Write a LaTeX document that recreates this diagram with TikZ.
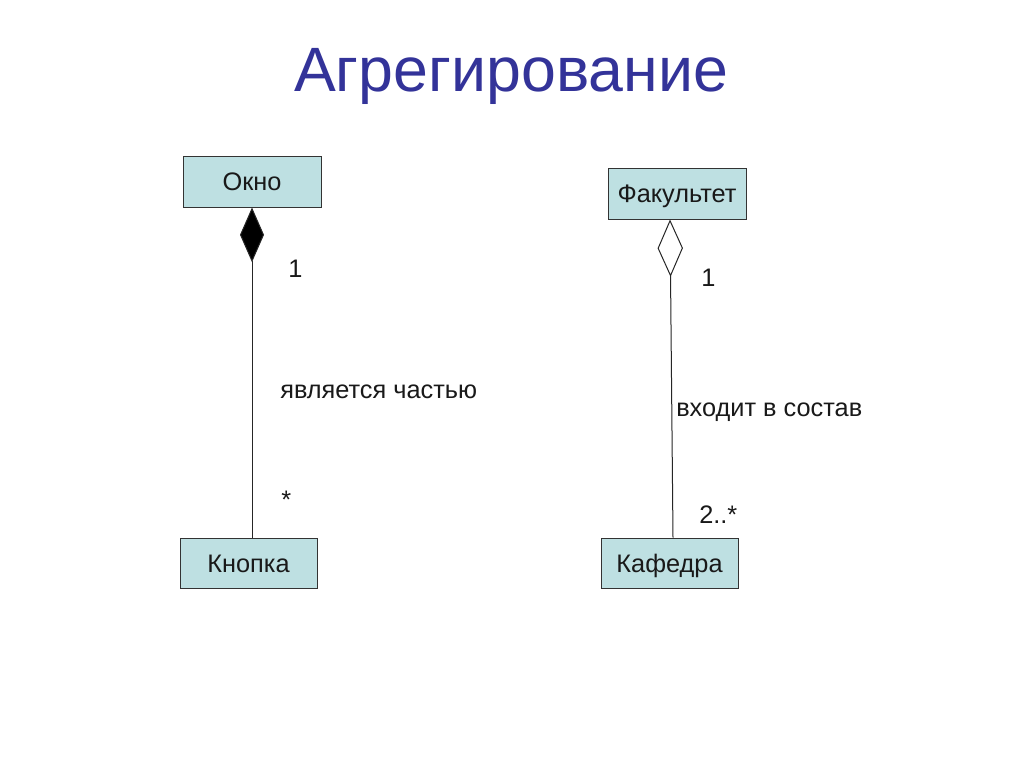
\documentclass[tikz,border=0pt]{standalone}
\usepackage{fontspec}
\setmainfont{Liberation Sans}
\usetikzlibrary{arrows.meta,calc}
\definecolor{boxfill}{RGB}{190,224,226}
\definecolor{titleblue}{RGB}{51,51,153}
\tikzset{
  umlbox/.style={draw=black!80, line width=0.75pt, fill=boxfill, inner sep=0pt,
    font=\fontsize{19}{22}\selectfont, text=black!90, text height=13.6pt, text depth=0pt},
  lbl/.style={anchor=west, inner sep=0pt, font=\fontsize{19}{22}\selectfont, text=black!90,
    text height=13.6pt, text depth=0pt},
  assoc/.style={draw=black!85, line width=0.75pt},
  filledagg/.style={assoc, {Diamond[length=41pt,width=18pt,fill=black]}-},
  openagg/.style={assoc, {Diamond[open,length=43pt,width=19pt,fill=white]}-}
}
\begin{document}
\begin{tikzpicture}[x=0.75pt,y=-0.75pt]
\useasboundingbox (0,0) rectangle (1024,767);
\fill[white] (0,0) rectangle (1024,767);
\node[font=\fontsize{47}{56}\selectfont, text=titleblue, text height=33.7pt, text depth=0pt, inner sep=0pt] (title) at (511,69) {Агрегирование};

\node[umlbox, minimum width=103.5pt, minimum height=38.25pt] (okno) at (252,181.5) {Окно};
\node[umlbox, minimum width=102.75pt, minimum height=37.5pt] (knopka) at (248.5,563) {Кнопка};
\node[umlbox, minimum width=103.5pt, minimum height=38.25pt] (fak) at (677,193.5) {Факультет};
\node[umlbox, minimum width=102.75pt, minimum height=37.5pt] (kaf) at (669.5,563) {Кафедра};

\draw[filledagg] (okno.south) -- ($(knopka.north)+(3.5,0)$);
\draw[openagg] ($(fak.south)+(-7,0)$) -- ($(kaf.north)+(3.5,0)$);

\node[lbl] (m1) at (288,268) {1};
\node[lbl] (r1) at (280,389) {является частью};
\node[lbl] (m2) at (281,499) {*};
\node[lbl] (m3) at (701,277) {1};
\node[lbl] (r2) at (676,407) {входит в состав};
\node[lbl] (m4) at (699,514) {2..*};
\end{tikzpicture}
\end{document}
